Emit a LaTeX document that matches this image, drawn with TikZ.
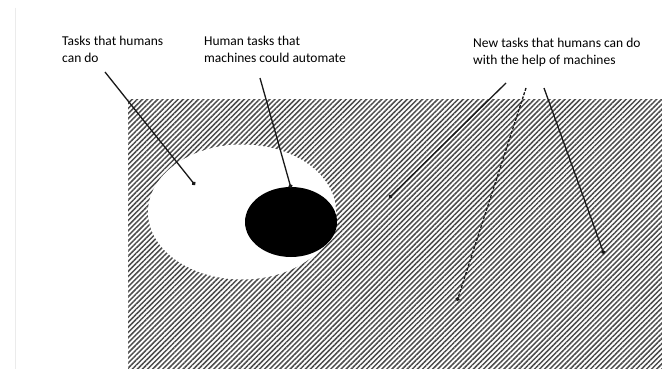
\documentclass[tikz,border=0pt]{standalone}
\usepackage{fontspec}
\setmainfont{Carlito}
\usetikzlibrary{patterns.meta,shapes.geometric,arrows.meta}
\begin{document}
\begin{tikzpicture}[x=1pt,y=-1pt,
  lbl/.style={anchor=north west,inner sep=0pt,align=left,text=black,
    font=\fontsize{13.5}{17}\selectfont},
  pointer/.style={draw=black!90,line width=1.3pt,-{Circle[length=4pt]}},
  hatch/.style={pattern={Lines[angle=45,distance=3.6pt,line width=1.5pt]},pattern color=black!70}]
\useasboundingbox (0,0) rectangle (662,369);
\fill[white] (0,0) rectangle (662,369);
\draw[black!8,line width=1pt] (15,8) -- (15,369);
% hatched region
\fill[hatch] (128,100) rectangle (662,369);
% ellipses
\node[ellipse,fill=white,inner sep=0pt,minimum width=188pt,minimum height=135pt] (humans) at (242,212) {};
\node[ellipse,fill=black,inner sep=0pt,minimum width=92pt,minimum height=70pt] (auto) at (291,222) {};
% labels
\node[lbl] (l1) at (62,36) {Tasks that humans\\can do};
\node[lbl] (l2) at (204,36) {Human tasks that\\machines could automate};
\node[lbl] (l3) at (473,38) {New tasks that humans can do\\with the help of machines};
% connector ends
\coordinate (s1) at (105,72);
\coordinate (e1) at (195,185);
\coordinate (s2) at (260,78);
\coordinate (e2) at (291,188);
\coordinate (s3a) at (506,83);
\coordinate (e3a) at (389,198);
\coordinate (s3b) at (526,88);
\coordinate (e3b) at (457,301);
\coordinate (s3c) at (544,88);
\coordinate (e3c) at (604,254);
\draw[pointer] (s1) -- (e1);
\draw[pointer] (s2) -- (e2);
\draw[pointer] (s3a) -- (e3a);
\draw[pointer,dash pattern=on 3pt off 1.5pt] (s3b) -- (e3b);
\draw[pointer] (s3c) -- (e3c);
\end{tikzpicture}
\end{document}
